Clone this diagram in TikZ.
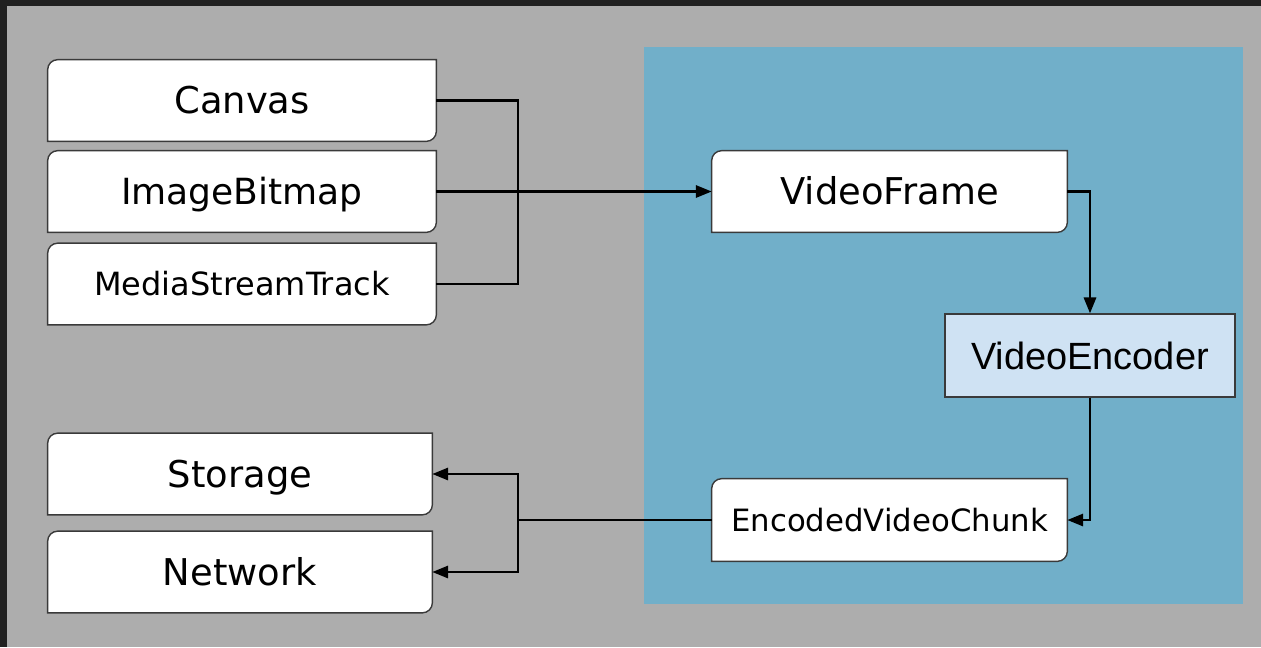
\documentclass[tikz,border=0pt]{standalone}
\usepackage{fontspec}
\usepackage{tikz}
\usetikzlibrary{arrows.meta,backgrounds}
\newfontfamily\verd{DejaVu Sans}
\newfontfamily\arialish{Liberation Sans}
\definecolor{framedark}{HTML}{212121}
\definecolor{canvasgray}{HTML}{ADADAD}
\definecolor{panelblue}{HTML}{71AFC9}
\definecolor{encoderfill}{HTML}{CFE2F3}
\definecolor{edgegray}{HTML}{3A3A3A}
\tikzset{
	card/.style={minimum width=#1*0.02cm, minimum height=81*0.02cm, inner sep=0pt, text height=15.3pt, text depth=0pt, font=\verd\fontsize{21}{24}\selectfont},
	card/.default=388,
	smallcard/.style={font=\verd\fontsize{#1}{22}\selectfont, text height=0.729*#1pt},
	wire/.style={line width=1.2pt, color=black},
	>={Triangle[length=9pt, width=7pt]}
}
% box with rounded top left and bottom right corners
\newcommand{\cardoutline}[1]{
	\filldraw[fill=white, draw=edgegray, line width=0.8pt] (#1.south west) -- ([yshift=-5.7pt]#1.north west) arc[start angle=180, end angle=90, radius=5.7pt] -- (#1.north east) -- ([yshift=5.7pt]#1.south east) arc[start angle=0, end angle=-90, radius=5.7pt] -- cycle;
}

\begin{document}
\begin{tikzpicture}[x=0.02cm, y=-0.02cm]
	\useasboundingbox (0,0) rectangle (1261,647);
	\node[card] (canvas) at (242,100.5) {Canvas};
	\node[card, smallcard=20.5] (bitmap) at (242,191.5) {ImageBitmap};
	\node[card, smallcard=18.2] (track) at (242,284) {MediaStreamTrack};
	\node[card=384] (storage) at (240,474) {Storage};
	\node[card=384] (network) at (240,572) {Network};
	\node[card=355] (frame) at (889.5,191.5) {VideoFrame};
	\node[card=290, minimum height=83*0.02cm, fill=encoderfill, draw=edgegray, line width=0.8pt, font=\arialish\fontsize{21.6}{24}\selectfont, text height=15.5pt] (encoder) at (1090,355.5) {VideoEncoder};
	\node[card=355, minimum height=82*0.02cm, smallcard=17.5] (chunk) at (889.5,520) {EncodedVideoChunk};
	\coordinate (inbus) at (518,191.5);
	\coordinate (outbus) at (518,520);

	\begin{scope}[on background layer]
		\fill[framedark] (0,0) rectangle (1261,647);
		\fill[canvasgray] (7,6) rectangle (1261,647);
		\fill[panelblue] (644,47) rectangle (1243,604);
		\foreach \n in {canvas,bitmap,track,storage,network,frame,chunk}{
			\cardoutline{\n}
		}
	\end{scope}

	\draw[wire] (canvas.east) -| (inbus) |- (track.east);
	\draw[wire, ->] (bitmap.east) -- (frame.west);
	\draw[wire, ->] (frame.east) -| (encoder.north);
	\draw[wire, ->] (encoder.south) |- (chunk.east);
	\draw[wire] (chunk.west) -- (outbus);
	\draw[wire, ->] (outbus) |- (storage.east);
	\draw[wire, ->] (outbus) |- (network.east);
\end{tikzpicture}
\end{document}
